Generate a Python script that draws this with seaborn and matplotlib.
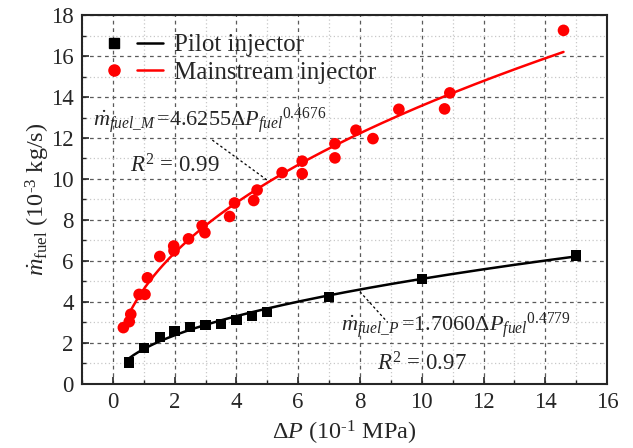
import numpy as np
import pandas as pd
import matplotlib
matplotlib.use("Agg")
import matplotlib.pyplot as plt
import seaborn as sns
from matplotlib.ticker import MultipleLocator
from matplotlib.legend_handler import HandlerTuple
from matplotlib.lines import Line2D

# Pilot injector measurements
pilot_dp = [0.53, 1.0, 1.52, 2.0, 2.5, 3.0, 3.5, 4.0, 4.5, 5.0, 7.0, 10.0, 15.0]
pilot_flow = [1.05, 1.77, 2.28, 2.6, 2.78, 2.87, 2.92, 3.13, 3.3, 3.5, 4.25, 5.12, 6.27]

# Mainstream injector measurements
main_dp = [0.34, 0.53, 0.58, 0.85, 1.04, 1.12, 1.52, 1.97, 1.98, 2.45, 2.89, 2.98,
           3.78, 3.94, 4.56, 4.67, 5.48, 6.13, 6.13, 7.19, 7.19, 7.87, 8.42,
           9.26, 10.74, 10.91, 14.59]
main_flow = [2.75, 3.04, 3.4, 4.37, 4.37, 5.18, 6.22, 6.73, 6.5, 7.08, 7.72, 7.38,
             8.17, 8.83, 8.95, 9.46, 10.31, 10.87, 10.26, 11.72, 11.03, 12.38, 11.97,
             13.4, 13.42, 14.2, 17.25]

# Power-law fits  m = a * dP^b
pilot_a, pilot_b = 1.7060, 0.4779
main_a, main_b = 4.6255, 0.4676

sns.set_style("ticks")
plt.rcParams["font.family"] = ["Liberation Serif", "DejaVu Serif"]
plt.rcParams["mathtext.fontset"] = "custom"
plt.rcParams["mathtext.rm"] = "Liberation Serif"
plt.rcParams["mathtext.it"] = "Liberation Serif:italic"
plt.rcParams["mathtext.bf"] = "Liberation Serif:bold"

fig = plt.figure(figsize=(6.33, 4.48), dpi=100)
ax = fig.add_axes([0.1295, 0.1429, 0.8295, 0.8236])

pilot_df = pd.DataFrame({"dp": pilot_dp, "flow": pilot_flow})
main_df = pd.DataFrame({"dp": main_dp, "flow": main_flow})

px = np.linspace(min(pilot_dp), max(pilot_dp), 200)
mx = np.linspace(min(main_dp), max(main_dp), 200)
pilot_fit = pd.DataFrame({"dp": px, "flow": pilot_a * px ** pilot_b})
main_fit = pd.DataFrame({"dp": mx, "flow": main_a * mx ** main_b})

sns.lineplot(data=pilot_fit, x="dp", y="flow", color="black", lw=1.8, ax=ax, zorder=3)
sns.lineplot(data=main_fit, x="dp", y="flow", color="red", lw=1.8, ax=ax, zorder=3)
sns.scatterplot(data=pilot_df, x="dp", y="flow", marker="s", s=55, color="black",
                edgecolor="none", ax=ax, zorder=4)
sns.scatterplot(data=main_df, x="dp", y="flow", marker="o", s=70, color="red",
                edgecolor="none", ax=ax, zorder=4)

ax.set_xlim(-1, 16)
ax.set_ylim(0, 18)
ax.xaxis.set_major_locator(MultipleLocator(2))
ax.xaxis.set_minor_locator(MultipleLocator(1))
ax.yaxis.set_major_locator(MultipleLocator(2))
ax.yaxis.set_minor_locator(MultipleLocator(1))
ax.tick_params(which="major", direction="in", length=5, width=1.2, labelsize=16.5, pad=6)
ax.tick_params(which="minor", direction="in", length=3, width=1.0)
ax.grid(which="major", linestyle=(0, (3, 3)), color="#5a5a5a", lw=0.9)
ax.grid(which="minor", linestyle=(0, (1, 2)), color="#c8c8c8", lw=0.9)
ax.set_axisbelow(True)
for sp in ax.spines.values():
    sp.set_linewidth(1.5)
    sp.set_visible(True)

ax.set_xlabel("$\\Delta P$ (10$^{\u2010\\mathrm{1}}$ MPa)", fontsize=17.5, labelpad=4)
ax.set_ylabel("$\\dot{m}_{\\mathrm{fuel}}$ (10$^{\u2010\\mathrm{3}}$ kg/s)", fontsize=17.5,
              labelpad=-1)

# Legend: marker and fit line side by side
h_pilot = (Line2D([], [], marker="s", ls="none", color="black", markersize=7),
           Line2D([], [], color="black", lw=1.8))
h_main = (Line2D([], [], marker="o", ls="none", color="red", markersize=8),
          Line2D([], [], color="red", lw=1.8))
ax.legend([h_pilot, h_main], ["Pilot injector", "Mainstream injector"],
          handler_map={tuple: HandlerTuple(ndivide=None, pad=0.4)},
          loc="upper left", bbox_to_anchor=(0.0, 1.0), frameon=False,
          fontsize=18, handlelength=2.5, handletextpad=0.45, labelspacing=0.2,
          borderaxespad=0.35)

# Fit equations with leader lines
ax.text(-0.65, 12.6, r"$\dot{m}_{fuel\_M}\,$=4.6255$\Delta {P_{fuel}}^{0.4676}$",
        fontsize=16)
ax.text(0.55, 10.3, r"$R^2$ = 0.99", fontsize=16.5)
ax.plot([3.22, 4.99], [11.9, 9.95], ls=(0, (2, 2)), color="black", lw=0.9)

ax.text(7.4, 2.6, r"$\dot{m}_{fuel\_P}\,$=1.7060$\Delta {P_{fuel}}^{0.4779}$",
        fontsize=16)
ax.text(8.55, 0.65, r"$R^2$ = 0.97", fontsize=16.5)
ax.plot([8.0, 8.9], [4.5, 3.0], ls=(0, (2, 2)), color="black", lw=0.9)

fig.savefig("out.png", dpi=100)
